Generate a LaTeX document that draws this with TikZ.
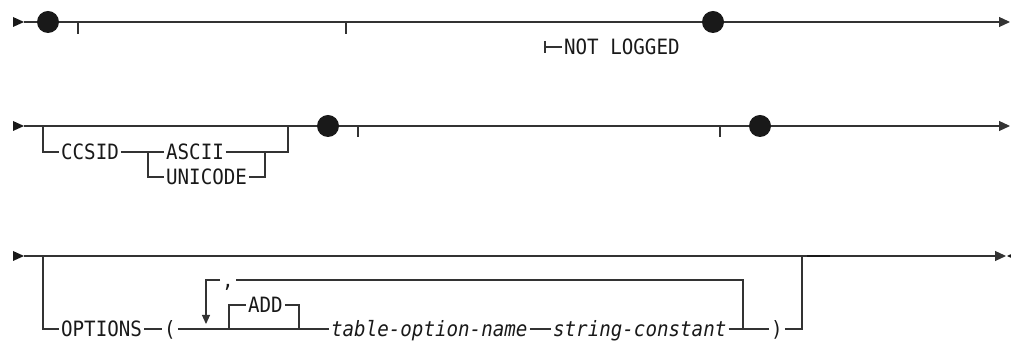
\documentclass[tikz,border=0pt]{standalone}
\usepackage{fontspec}
\setmonofont{DejaVu Sans Mono}[ItalicFont={DejaVu Sans Mono Oblique}, FakeStretch=0.91]
\usetikzlibrary{arrows.meta}
\tikzset{
  rail/.style={line width=0.65pt, draw=black!80},
  kw/.style={inner xsep=1pt, inner ysep=0pt, text height=8.7pt, text depth=0pt, anchor=west,
    text=black!90, font=\ttfamily\fontsize{12}{14}\selectfont},
  var/.style={kw, font=\ttfamily\itshape\fontsize{12}{14}\selectfont},
  bigdot/.style={circle, fill=black!90, inner sep=0pt, minimum size=4.4mm},
  railend/.style={-{Triangle[length=2.2mm,width=2mm]}}
}
\begin{document}
\begin{tikzpicture}[x=0.2mm, y=-0.2mm]
\useasboundingbox (0,0) rectangle (1011,343);
\foreach \y in {22,126,256} \fill[black!90] (13,\y-5) -- (24,\y) -- (13,\y+5) -- cycle;

% first row
\coordinate (r1s) at (24,22);
\coordinate (r1e) at (1010,22);
\node[bigdot] (dot1) at (48,22) {};
\node[bigdot] (dot2) at (713,22) {};
\draw[rail,railend] (r1s) -- (dot1) -- (dot2) -- (r1e);
\foreach \x in {78,346} \draw[rail] (\x,22) -- ++(0,12);
\node[kw] (nolog) at (562,47) {NOT LOGGED};
\draw[rail] (nolog.west) -- ++(-17,0) ++(0,-6) -- ++(0,12);

% second row
\coordinate (r2s) at (24,126);
\coordinate (r2e) at (1010,126);
\node[bigdot] (dot3) at (328,126) {};
\node[bigdot] (dot4) at (760,126) {};
\draw[rail,railend] (r2s) -- (dot3) -- (dot4) -- (r2e);
\foreach \x in {358,720} \draw[rail] (\x,126) -- ++(0,11);
\node[kw] (ccsid) at (59,152) {CCSID};
\node[kw] (ascii) at (164,152) {ASCII};
\node[kw] (unicode) at (164,177) {UNICODE};
\coordinate (cj) at (148,152);
\draw[rail] (43,126) |- (ccsid.west);
\draw[rail] (ccsid.east) -- (ascii.west);
\draw[rail] (cj) |- (unicode.west);
\draw[rail] (ascii.east) -| (288,126);
\draw[rail] (unicode.east) -| (265,152);

% third row
\coordinate (r3s) at (24,256);
\coordinate (r3e) at (1006,256);
\draw[rail,railend] (r3s) -- (r3e);
\fill[black!90] (1007,256) -- (1018,251) -- (1018,261) -- cycle;
\draw[line width=1.3pt, black!90] (807,256) -- (830,256);
\node[kw] (opts) at (59,329) {OPTIONS};
\node[kw, anchor=center] (lpar) at (170,329) {(};
\node[kw] (add) at (246,305) {ADD};
\node[var] (tname) at (329,329) {table-option-name};
\node[var] (sconst) at (551,329) {string-constant};
\node[kw, anchor=center] (rpar) at (777,329) {)};
\node[kw, anchor=center] (comma) at (228,280) {,};
\coordinate (rj) at (743,329);
\draw[rail] (43,256) |- (opts.west);
\draw[rail] (opts.east) -- (lpar.west);
\draw[rail] (lpar.east) -- (tname.west);
\draw[rail] (229,329) |- (add.west);
\draw[rail] (add.east) -| (299,329);
\draw[rail] (tname.east) -- (sconst.west);
\draw[rail] (sconst.east) -- (rpar.west);
\draw[rail] (rj) |- (comma.east);
\draw[rail,-{Triangle[length=1.8mm,width=1.6mm]}] (comma.west) -| (206,324);
\draw[rail] (rpar.east) -| (802,256);
\end{tikzpicture}
\end{document}
